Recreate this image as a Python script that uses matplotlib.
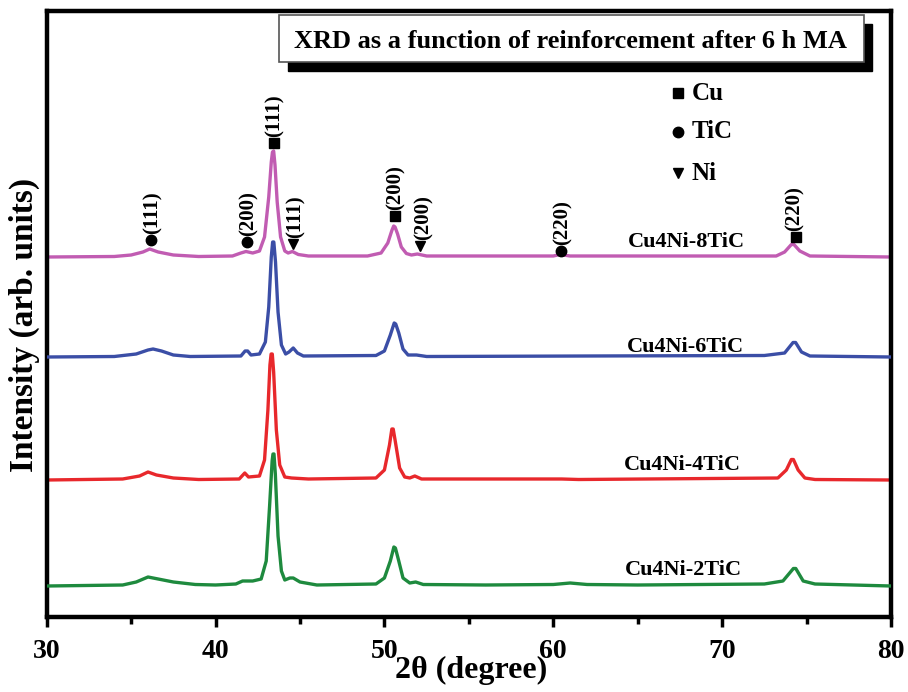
import matplotlib
matplotlib.use("Agg")
import matplotlib.pyplot as plt
from matplotlib.patches import Rectangle
from matplotlib.ticker import MultipleLocator

plt.rcParams['font.family'] = ['Liberation Serif', 'DejaVu Serif']
plt.rcParams['font.weight'] = 'bold'

# ---------------- data (2θ in degrees, intensity in arb. units above own baseline) ----
samples = ["Cu4Ni-8TiC", "Cu4Ni-6TiC", "Cu4Ni-4TiC", "Cu4Ni-2TiC"]
colors = ["#C15CB2", "#3B4EA6", "#E8282C", "#1E8A3E"]
offsets = [360, 260, 137, 31]

tt_8 = [30, 34, 35, 35.7, 36.1, 36.6, 37.5, 39, 41.0, 41.5, 41.8, 42.2, 42.6, 42.9, 43.15, 43.3,
        43.37, 43.44, 43.52, 43.65, 43.85, 44.1, 44.3, 44.55, 44.9, 45.5, 49.0, 49.8, 50.2, 50.45,
        50.55, 50.63, 50.78, 51.0, 51.3, 51.6, 51.95, 52.5, 60.0, 60.4, 61, 73.2, 73.7, 74.1,
        74.25, 74.6, 75.2, 80]
int_8 = [0, 0.5, 2, 5, 8, 5, 2, 0.5, 1, 4, 5.5, 4, 6, 20, 60, 95,
         105, 106, 92, 55, 20, 6, 4, 5.5, 2.5, 1, 1, 4, 14, 27,
         31, 30, 23, 10, 3.5, 2, 3, 1, 1, 2.5, 1, 1, 5, 12.5,
         12.5, 6, 1, 0]

tt_6 = [30, 34, 35.3, 36.0, 36.3, 36.8, 37.5, 38.5, 41.5, 41.75, 41.9, 42.1, 42.6, 42.95, 43.15,
        43.3, 43.38, 43.45, 43.55, 43.7, 43.9, 44.15, 44.35, 44.6, 44.85, 45.2, 49.5, 50.0, 50.35,
        50.58, 50.67, 50.85, 51.1, 51.4, 51.9, 52.5, 62, 72.5, 73.7, 74.2, 74.35, 74.7, 75.2, 80]
int_6 = [0, 0.5, 3, 7, 8, 6, 2, 0.5, 1, 6, 6, 2, 3, 15, 50,
         100, 115, 115, 95, 45, 12, 3, 5, 9, 4, 1, 1.5, 6, 22,
         34, 33, 24, 8, 2, 2, 0.5, 1, 1.5, 4, 14.5, 14.5, 5, 1, 0]

tt_4 = [30, 34.5, 35.5, 36.0, 36.5, 37.5, 39, 41.4, 41.73, 41.95, 42.6, 42.9, 43.1, 43.22, 43.29,
        43.36, 43.44, 43.6, 43.8, 44.1, 44.5, 45.5, 49.5, 50.0, 50.3, 50.44, 50.52, 50.65, 50.9,
        51.2, 51.5, 51.8, 52.2, 60.5, 61.5, 73.3, 73.8, 74.1, 74.22, 74.5, 74.9, 75.5, 80]
int_4 = [0, 1, 4, 8, 5, 2, 0.5, 1, 7, 3, 4, 20, 70, 115, 126,
         126, 108, 50, 15, 3, 2, 1, 2, 10, 35, 51, 51, 38, 12,
         3, 2, 4, 1, 1, 0.5, 2, 10, 20.5, 20.5, 10, 2, 0.5, 0]

tt_2 = [30, 34.5, 35.3, 36.0, 36.6, 37.5, 38.8, 40, 41.2, 41.6, 42.2, 42.7, 43.0, 43.2, 43.35,
        43.4, 43.46, 43.54, 43.7, 43.9, 44.1, 44.4, 44.6, 45.0, 46, 49.5, 50.0, 50.35, 50.56,
        50.65, 50.85, 51.1, 51.5, 51.85, 52.3, 56, 60, 61, 62, 65, 72.5, 73.6, 74.22, 74.36,
        74.8, 75.5, 80]
int_2 = [0, 1, 4, 9, 7, 4, 1.5, 1, 2, 5, 5, 7, 25, 80, 125,
         132, 132, 112, 50, 15, 6, 8, 8, 4, 1, 2, 8, 25, 39,
         38, 25, 8, 3, 4, 1.5, 1, 1.5, 3, 1.5, 1, 2, 5, 17.5, 17.5,
         5, 2, 0]

series_tt = [tt_8, tt_6, tt_4, tt_2]
series_int = [int_8, int_6, int_4, int_2]

# peak annotations on the top pattern
peak_pos = [36.2, 41.85, 43.47, 44.61, 50.62, 52.11, 60.45, 74.37]
peak_marker = ["o", "o", "s", "v", "s", "v", "o", "s"]
peak_hkl = ["(111)", "(200)", "(111)", "(111)", "(200)", "(200)", "(220)", "(220)"]
peak_mark_y = [377, 375, 474, 373, 401, 371, 366, 380]
peak_text_x = [36.3, 41.97, 43.5, 44.75, 50.68, 52.3, 60.55, 74.28]

legend_phase = ["Cu", "TiC", "Ni"]
legend_marker = ["s", "o", "v"]

label_pos_x = [67.9, 67.85, 67.65, 67.7]
label_pos_y = [375, 270, 152, 47]

# ---------------- figure ----------------
W, H = 908, 692
fig = plt.figure(figsize=(W / 100, H / 100), dpi=100)
ax = fig.add_axes([46.7 / W, 1 - 617 / H, (891 - 46.7) / W, (617 - 10.7) / H])

for tt, it, off, c, z in zip(series_tt, series_int, offsets, colors, [2, 3, 2.5, 4]):
    ax.plot(tt, [v + off for v in it], color=c, lw=2.4, zorder=z, solid_joinstyle='round')

ax.set_xlim(30, 80)
ax.set_ylim(0, 606.3)
ax.set_yticks([])
ax.xaxis.set_major_locator(MultipleLocator(10))
ax.xaxis.set_minor_locator(MultipleLocator(5))
ax.tick_params(axis='x', which='major', direction='out', length=7, width=2.5, pad=9,
               labelsize=20)
ax.tick_params(axis='x', which='minor', direction='out', length=5, width=2.5)
for lab in ax.get_xticklabels():
    lab.set_fontweight('bold')
for sp in ax.spines.values():
    sp.set_linewidth(3.2)

fig.text(471 / W, 1 - 670 / H, "2θ (degree)", ha='center', va='center',
         fontsize=23, fontweight='bold')
fig.text(24 / W, 1 - 325 / H, "Intensity (arb. units)", rotation=90, ha='center', va='center',
         fontsize=24, fontweight='bold')

# peak markers and hkl labels
for x, m, hkl, my, tx in zip(peak_pos, peak_marker, peak_hkl, peak_mark_y, peak_text_x):
    ax.plot([x], [my], marker=m, color='black', ms=7.5, ls='none', zorder=5)
    ax.text(tx, my + 6, hkl, rotation=90, ha='center', va='bottom', fontsize=15,
            fontweight='bold', zorder=5)

# sample labels
for s, lx, ly in zip(samples, label_pos_x, label_pos_y):
    ax.text(lx, ly, s, ha='center', va='center', fontsize=16, fontweight='bold', zorder=6)

# legend of phases
leg_y = [524, 485, 444]
for ph, m, y in zip(legend_phase, legend_marker, leg_y):
    ax.plot([67.4], [y], marker=m, color='black', ms=7.5, ls='none')
    ax.text(68.2, y, ph, ha='left', va='center', fontsize=18, fontweight='bold')

# title box with shadow
def fbox(x0, y0, x1, y1):
    return (x0 / W, 1 - y1 / H), (x1 - x0) / W, (y1 - y0) / H

xy, w, h = fbox(288, 24, 872, 71)
fig.patches.append(Rectangle(xy, w, h, transform=fig.transFigure, facecolor='black',
                             edgecolor='black', zorder=10))
xy, w, h = fbox(279, 15, 864, 62)
fig.patches.append(Rectangle(xy, w, h, transform=fig.transFigure, facecolor='white',
                             edgecolor='#555555', lw=1.2, zorder=11))
fig.text(571 / W, 1 - 41 / H, "XRD as a function of reinforcement after 6 h MA",
         ha='center', va='center', fontsize=19, fontweight='bold', zorder=12)

fig.savefig("out.png", dpi=100)
